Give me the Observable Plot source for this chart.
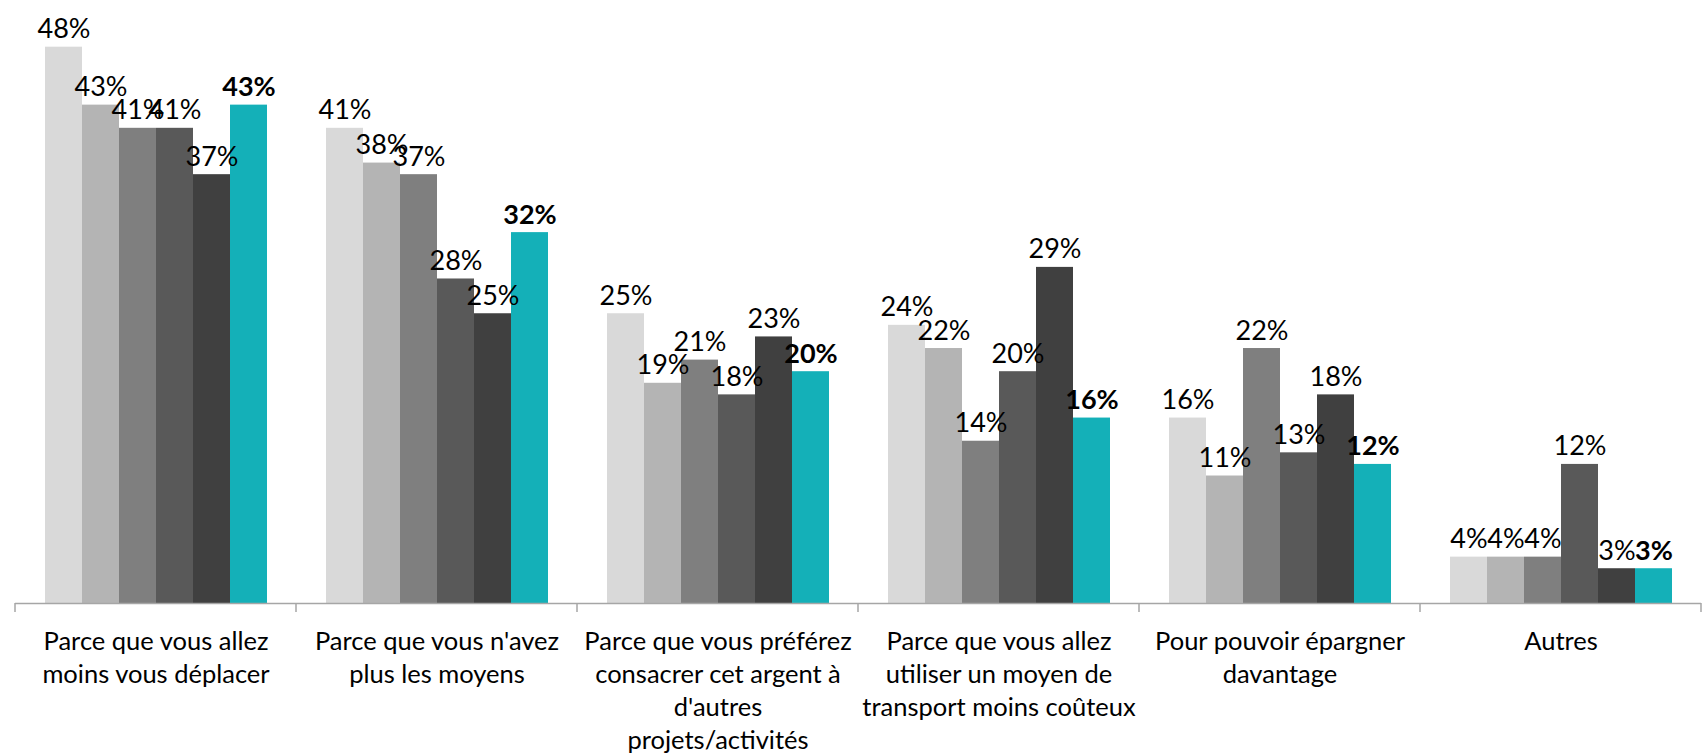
<!DOCTYPE html>
<html><head><meta charset="utf-8">
<script src="https://cdn.jsdelivr.net/npm/d3@7"></script>
<script src="https://cdn.jsdelivr.net/npm/@observablehq/plot@0.6"></script>
<style>body{margin:0;background:#fff}</style>
</head><body><div id="chart"></div>
<script>
const categories = [
  "Parce que vous allez moins vous déplacer",
  "Parce que vous n'avez plus les moyens",
  "Parce que vous préférez consacrer cet argent à d'autres projets/activités",
  "Parce que vous allez utiliser un moyen de transport moins coûteux",
  "Pour pouvoir épargner davantage",
  "Autres"
];
const categoryLabels = [
  "Parce que vous allez\nmoins vous déplacer",
  "Parce que vous n'avez\nplus les moyens",
  "Parce que vous préférez\nconsacrer cet argent à\nd'autres\nprojets/activités",
  "Parce que vous allez\nutiliser un moyen de\ntransport moins coûteux",
  "Pour pouvoir épargner\ndavantage",
  "Autres"
];
const series = ["Série 1", "Série 2", "Série 3", "Série 4", "Série 5", "Série 6"];
const colors = ["#D9D9D9", "#B4B4B4", "#7F7F7F", "#595959", "#404040", "#14B0B8"];
const serie1 = [48, 41, 25, 24, 16, 4];
const serie2 = [43, 38, 19, 22, 11, 4];
const serie3 = [41, 37, 21, 14, 22, 4];
const serie4 = [41, 28, 18, 20, 13, 12];
const serie5 = [37, 25, 23, 29, 18, 3];
const serie6 = [43, 32, 20, 16, 12, 3];
const values = [serie1, serie2, serie3, serie4, serie5, serie6];

const data = [];
categories.forEach((c, i) => series.forEach((s, j) => data.push({category: c, series: s, value: values[j][i]})));
const highlight = series[series.length - 1];
const labelOf = new Map(categories.map((c, i) => [c, categoryLabels[i]]));

const VFS = 27;   // value labels
const AFS = 25.5; // category labels
const plot = Plot.plot({
  width: 1703, height: 755,
  marginTop: 23.5, marginBottom: 152, marginLeft: 13, marginRight: 0,
  style: {fontFamily: "Lato, sans-serif", fontSize: AFS + "px", background: "#fff", color: "#000"},
  fx: {domain: categories, padding: 0},
  x: {domain: series, paddingInner: 0, paddingOuter: 0.775, axis: null},
  y: {domain: [0, 50], axis: null},
  color: {domain: series, range: colors},
  marks: [
    Plot.barY(data, {fx: "category", x: "series", y: "value", fill: "series"}),
    Plot.ruleY([0], {stroke: "#A6A6A6", strokeWidth: 1.5}),
    Plot.text(data.filter(d => d.series !== highlight), {
      fx: "category", x: "series", y: "value", text: d => d.value + "%",
      lineAnchor: "bottom", dy: -9, fontSize: VFS, fill: "#000"
    }),
    Plot.text(data.filter(d => d.series === highlight), {
      fx: "category", x: "series", y: "value", text: d => d.value + "%",
      lineAnchor: "bottom", dy: -9, fontSize: VFS, fontWeight: "bold", fill: "#000"
    }),
    Plot.axisFx({anchor: "bottom", tickSize: 0, tickPadding: 23, fontSize: AFS, lineHeight: 1.29,
      label: null, tickFormat: d => labelOf.get(d)})
  ]
});
document.getElementById("chart").appendChild(plot);

// category boundary ticks, placed with the fx scale
const fx = plot.scale("fx");
const y = plot.scale("y");
const y0 = y.apply(0);
const svg = d3.select(plot);
const edges = categories.map(c => fx.apply(c)).concat([fx.apply(categories[categories.length - 1]) + fx.bandwidth]);
svg.append("g").selectAll("line").data(edges).join("line")
  .attr("x1", d => d).attr("x2", d => d)
  .attr("y1", y0).attr("y2", y0 + 9)
  .attr("stroke", "#A6A6A6").attr("stroke-width", 1.5);
</script>
</body></html>
